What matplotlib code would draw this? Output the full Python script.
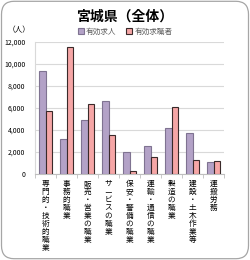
import matplotlib
matplotlib.use("Agg")
import matplotlib.pyplot as plt
from matplotlib.patches import FancyBboxPatch
import numpy as np

plt.rcParams['font.family'] = ['Noto Sans CJK JP', 'DejaVu Sans']

categories = ["専門的・技術的職業", "事務的職業", "販売・営業の職業", "サービスの職業",
              "保安・警備の職業", "運輸・通信の職業", "製造の職業", "建設・土木作業等", "運搬労務"]
job_offers = [9300, 3150, 4900, 6600, 1950, 2500, 4150, 3700, 1100]
job_seekers = [5650, 11500, 6350, 3500, 200, 1550, 6050, 1200, 1150]
yticks = [0, 2000, 4000, 6000, 8000, 10000, 12000]
ytick_labels = ["0", "2,000", "4,000", "6,000", "8,000", "10,000", "12,000"]

fig = plt.figure(figsize=(2.5, 2.6), dpi=100)
fig.patch.set_facecolor('white')
border = FancyBboxPatch((0.006, 0.005), 0.988, 0.99, boxstyle="round,pad=0,rounding_size=0.05",
                        transform=fig.transFigure, facecolor='white', edgecolor='#A6A6A6',
                        linewidth=0.9, zorder=-10)
fig.patches.append(border)

ax = fig.add_axes([0.14, 0.332, 0.756, 0.508])
ax.set_facecolor('none')
x = np.arange(len(categories))
w = 0.29
ax.bar(x - w/2, job_offers, w, color='#B3A2C7', edgecolor='#7F7391', linewidth=0.8, label='有効求人', zorder=3)
ax.bar(x + w/2, job_seekers, w, color='#F6A6A6', edgecolor='#3A2A2A', linewidth=0.8, label='有効求職者', zorder=3)

ax.set_xlim(-0.5, len(categories) - 0.5)
ax.set_ylim(0, 12000)
ax.set_yticks(yticks)
ax.set_yticklabels(ytick_labels, fontsize=5)
ax.tick_params(axis='y', length=0, pad=7)
ax.yaxis.grid(True, color='#D9D9D9', linewidth=0.8, zorder=0)
for s in ['top', 'right']:
    ax.spines[s].set_visible(False)
ax.spines['left'].set_color('#D9D9D9')
ax.spines['bottom'].set_color('#BFBFBF')

ax.set_xticks(x)
ax.set_xticklabels(['\n'.join(c) for c in categories], fontsize=5.5, va='top', linespacing=1.0)
ax.tick_params(axis='x', length=0, pad=4.5)
ax.set_xticks(np.arange(-0.5, len(categories), 1), minor=True)
ax.tick_params(axis='x', which='minor', length=3, color='#BFBFBF', direction='out')

fig.text(0.5, 0.935, '宮城県（全体）', ha='center', va='center', fontsize=10, fontweight='bold')
fig.text(0.032, 0.885, '（人）', ha='left', va='center', fontsize=5.5)
leg = fig.legend(loc='center', bbox_to_anchor=(0.5, 0.877), ncol=2, frameon=False,
                 handlelength=0.8, handleheight=0.8, handletextpad=0.3, columnspacing=1.2,
                 prop={'size': 5.5}, labelcolor='#595959')

fig.savefig('out.png', dpi=100)
